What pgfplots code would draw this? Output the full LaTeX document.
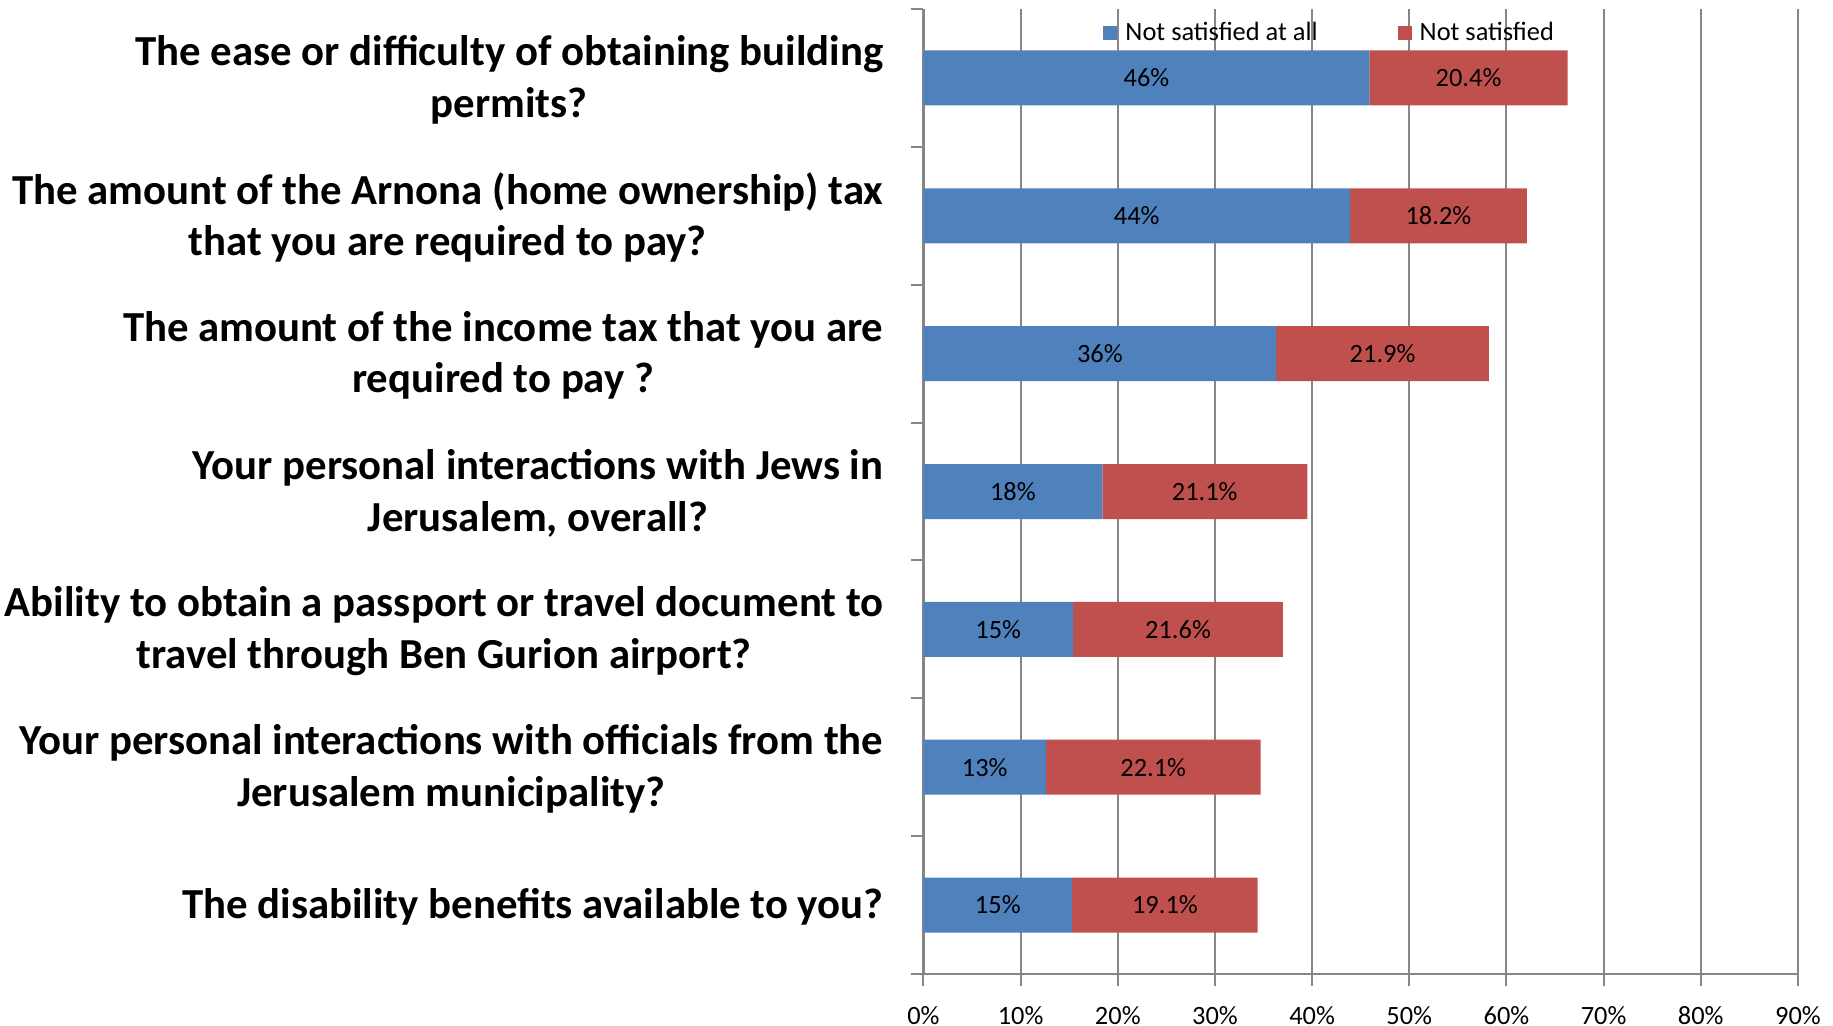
\documentclass[border=0pt]{standalone}
\usepackage{pgfplots}
\pgfplotsset{compat=1.18}
\usepackage{fontspec}
\setmainfont{Carlito}
\definecolor{barblue}{HTML}{4F81BD}
\definecolor{barred}{HTML}{C0504D}
\definecolor{axisgray}{HTML}{868686}
\begin{document}
\begin{tikzpicture}
\path[use as bounding box] (-230.875pt,-13pt) rectangle (227.375pt,243.5pt);
\begin{axis}[
    xbar stacked,
    scale only axis, width=218.625pt, height=241.25pt,
    bar width=13.75pt,
    xmin=0, xmax=90, ymin=-0.5, ymax=6.5, y dir=reverse,
    axis x line*=bottom, axis y line*=left,
    axis line style={draw=axisgray, line width=0.6pt},
    xmajorgrids, grid style={draw=axisgray, line width=0.5pt},
    tick align=outside, major tick length=3pt,
    tick style={draw=axisgray, line width=0.5pt},
    /pgf/number format/assume math mode=true,
    xtick={0,10,...,90},
    xticklabel={\pgfmathprintnumber{\tick}\%},
    xticklabel style={font=\fontsize{6.6}{7.9}\selectfont, anchor=center, yshift=-7.3pt},
    ytick={-0.5,0.5,...,6.5}, yticklabels={},
    extra y ticks={0,1,2,3,4,5,6},
    extra y tick labels={
        {The ease or difficulty of obtaining building\\permits?},
        {The amount of the Arnona (home ownership) tax\\that you are required to pay?},
        {The amount of the income tax that you are\\required to pay ?},
        {Your personal interactions with Jews in\\Jerusalem, overall?},
        {Ability to obtain a passport or travel document to\\travel through Ben Gurion airport?},
        {Your personal interactions with officials from the\\Jerusalem municipality?},
        {The disability benefits available to you?}},
    extra y tick style={major tick length=0pt,
        yticklabel style={align=center, anchor=east, xshift=-6.5pt, yshift=-0.45pt,
            font=\bfseries\fontsize{10.7}{12.9}\selectfont}},
    legend style={at={(0.468,0.974)}, anchor=center, draw=none, fill=none,
        font=\fontsize{6.6}{7.9}\selectfont, legend columns=2,
        /tikz/every even column/.append style={column sep=18pt}},
    legend image code/.code={\fill[#1] (0pt,-1.5pt) rectangle (3.5pt,2pt);},
    every node near coord/.append style={font=\fontsize{6.6}{7.9}\selectfont, black},
]
\addplot[fill=barblue, draw=none,
    nodes near coords={\pgfmathprintnumber[fixed,precision=0]{\pgfplotspointmeta}\%}]
    coordinates {(45.9,0) (43.9,1) (36.3,2) (18.4,3) (15.4,4) (12.6,5) (15.3,6)};
\addplot[fill=barred, draw=none,
    nodes near coords={\pgfmathprintnumber[fixed,fixed zerofill,precision=1]{\pgfplotspointmeta}\%}]
    coordinates {(20.4,0) (18.2,1) (21.9,2) (21.1,3) (21.6,4) (22.1,5) (19.1,6)};
\legend{Not satisfied at all, Not satisfied}
\end{axis}
\end{tikzpicture}
\end{document}
